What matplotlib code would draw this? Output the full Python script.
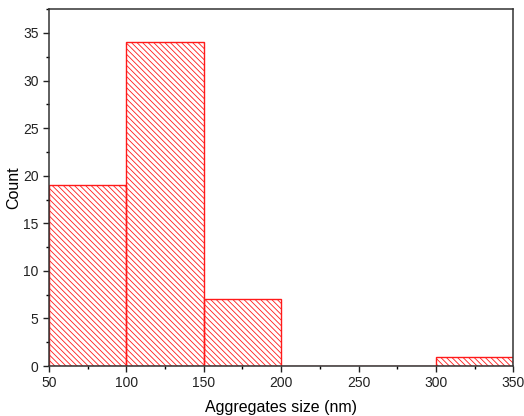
import matplotlib
matplotlib.use("Agg")
import matplotlib.pyplot as plt
from matplotlib.ticker import MultipleLocator

plt.rcParams['font.family'] = ['Liberation Sans', 'DejaVu Sans']
plt.rcParams['hatch.color'] = '#ff8c8c'
plt.rcParams['hatch.linewidth'] = 0.6

bin_left = [50, 100, 150, 200, 250, 300]
counts = [19, 34, 7, 0, 0, 1]
bin_width = 50

fig = plt.figure(figsize=(5.24, 4.16), dpi=100)
ax = fig.add_axes([0.0935, 0.12, 0.886, 0.858])

ax.bar(bin_left, counts, width=bin_width, align='edge', facecolor='none',
       edgecolor='#ff1a1a', linewidth=1.0, hatch='\\\\\\\\\\\\')

ax.set_xlim(50, 350)
ax.set_ylim(0, 37.5)
ax.xaxis.set_major_locator(MultipleLocator(50))
ax.xaxis.set_minor_locator(MultipleLocator(25))
ax.yaxis.set_major_locator(MultipleLocator(5))
ax.yaxis.set_minor_locator(MultipleLocator(2.5))
ax.tick_params(which='major', direction='out', length=4, width=1, labelsize=10, colors='#222222')
ax.tick_params(which='minor', direction='out', length=2, width=1)
for s in ax.spines.values():
    s.set_linewidth(1.1)
    s.set_color('#333333')

ax.set_xlabel("Aggregates size (nm)", fontsize=11.5, labelpad=7)
ax.set_ylabel("Count", fontsize=11.5, labelpad=1)

fig.savefig("out.png", dpi=100)
